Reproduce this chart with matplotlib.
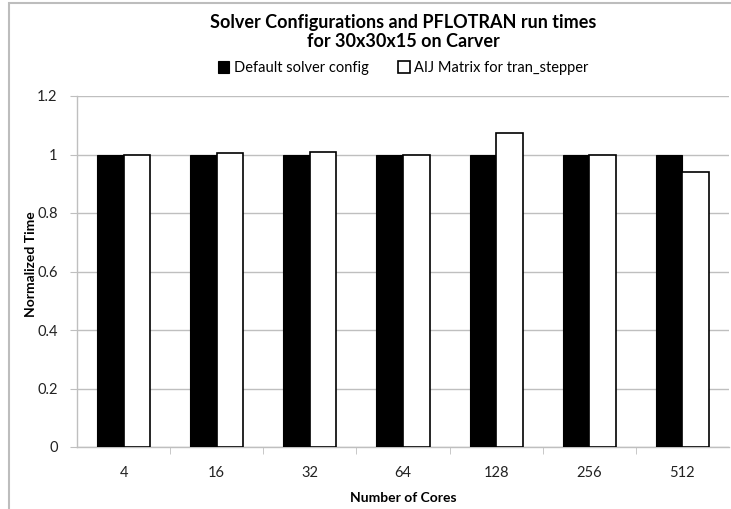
import numpy as np
import matplotlib.pyplot as plt
from matplotlib.patches import Rectangle

# === DATA ===
cores = ['4', '16', '32', '64', '128', '256', '512']
default_cfg = [1.0, 1.0, 1.0, 1.0, 1.0, 1.0, 1.0]
aij_matrix = [0.998, 1.004, 1.007, 0.998, 1.075, 0.999, 0.941]

plt.rcParams['font.family'] = ['Lato', 'DejaVu Sans']

fig = plt.figure(figsize=(7.31, 5.09), dpi=100)
ax = fig.add_axes([77 / 731, 1 - 447 / 509, 652 / 731, 351 / 509])

# light frame around the chart area
fig.patches.append(Rectangle((9 / 731, -0.1), 1.2, 1 - 3 / 509 + 0.1,
                             transform=fig.transFigure, fill=False,
                             edgecolor='#bdbdbd', linewidth=1.5, zorder=0))

x = np.arange(len(cores))
w = 0.285
ax.bar(x - w / 2, default_cfg, w, color='black', edgecolor='black',
       linewidth=0.8, label='Default solver config', zorder=3)
ax.bar(x + w / 2, aij_matrix, w, color='white', edgecolor='black',
       linewidth=1.2, label='AIJ Matrix for tran_stepper', zorder=3)

ax.set_xlim(-0.5, len(cores) - 0.5)
ax.set_ylim(0, 1.2)
ax.set_yticks(np.arange(0, 1.21, 0.2))
ax.set_yticklabels(['0', '0.2', '0.4', '0.6', '0.8', '1', '1.2'])
ax.set_xticks(x)
ax.set_xticklabels(cores)
ax.set_xticks(np.arange(0.5, len(cores) - 0.5, 1), minor=True)

ax.grid(axis='y', color='#bfbfbf', linewidth=1.0, zorder=0)
for s in ['top', 'right']:
    ax.spines[s].set_visible(False)
ax.spines['left'].set_color('#bfbfbf')
ax.spines['bottom'].set_color('#bfbfbf')
ax.spines['left'].set_linewidth(1.0)
ax.spines['bottom'].set_linewidth(1.0)

ax.tick_params(axis='y', length=5, color='#bfbfbf', labelsize=10.5,
               labelcolor='#222222', pad=9)
ax.tick_params(axis='x', which='major', length=0, labelsize=10.5,
               labelcolor='#222222', pad=14)
ax.tick_params(axis='x', which='minor', length=5, color='#bfbfbf')

ax.set_xlabel('Number of Cores', fontsize=10, fontweight='bold', labelpad=8)
ax.set_ylabel('Normalized Time', fontsize=10, fontweight='bold')
ax.yaxis.set_label_coords(-(77 - 37) / 652, 0.52)

fig.text(403 / 731, 1 - 32 / 509,
         'Solver Configurations and PFLOTRAN run times\nfor 30x30x15 on Carver',
         ha='center', va='center', fontsize=13, fontweight='bold',
         linespacing=1.2)

ax.legend(loc='center', bbox_to_anchor=(403 / 731, 1 - 68 / 509),
          bbox_transform=fig.transFigure, ncol=2, frameon=False,
          fontsize=10.5, handlelength=0.8, handleheight=0.8,
          handletextpad=0.3, columnspacing=2.0)

fig.savefig('out.png', dpi=100)
